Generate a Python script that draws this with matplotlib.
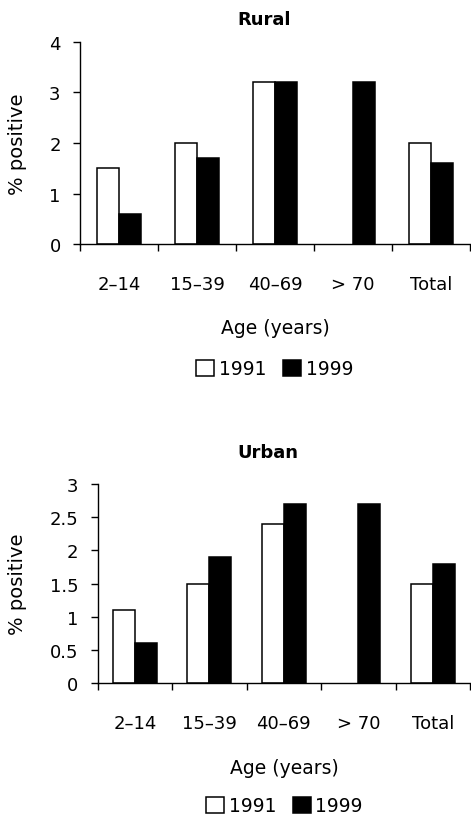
import numpy as np
import matplotlib.pyplot as plt
from matplotlib.patches import Patch

# data
ages = ['2–14', '15–39', '40–69', '> 70', 'Total']
rural_1991 = [1.5, 2.0, 3.2, np.nan, 2.0]
rural_1999 = [0.6, 1.7, 3.2, 3.2, 1.6]
urban_1991 = [1.1, 1.5, 2.4, np.nan, 1.5]
urban_1999 = [0.6, 1.9, 2.7, 2.7, 1.8]

plt.rcParams['font.family'] = 'DejaVu Sans'

fig = plt.figure(figsize=(4.71, 8.2), dpi=100)


def panel(rect, v91, v99, ymax, ystep, bw, title, title_xy, xlab_xy, ylab_xy, leg_xy):
    ax = fig.add_axes(rect)
    x = np.arange(len(ages)) + 0.5
    ax.bar(x - bw / 2, v91, bw, color='white', edgecolor='black', linewidth=1.1)
    ax.bar(x + bw / 2, v99, bw, color='black', edgecolor='black', linewidth=1.1)
    ax.set_xlim(0, len(ages))
    ax.set_ylim(0, ymax)
    ax.set_yticks(np.arange(0, ymax + 0.01, ystep))
    ax.set_yticklabels(['%g' % v for v in np.arange(0, ymax + 0.01, ystep)])
    ax.set_xticks(np.arange(len(ages) + 1))
    ax.set_xticklabels([])
    ax.set_xticks(x, minor=True)
    ax.set_xticklabels(ages, minor=True)
    ax.tick_params(axis='x', which='major', length=5, width=1, direction='out')
    ax.tick_params(axis='x', which='minor', length=0, pad=22, labelsize=13)
    ax.tick_params(axis='y', length=5, width=1, pad=9, labelsize=13)
    for s in ['top', 'right']:
        ax.spines[s].set_visible(False)
    for s in ['left', 'bottom']:
        ax.spines[s].set_linewidth(1.0)
    fig.text(title_xy[0], title_xy[1], title, ha='center', va='center',
             fontsize=13, fontweight='bold')
    fig.text(xlab_xy[0], xlab_xy[1], 'Age (years)', ha='center', va='center', fontsize=13.5)
    fig.text(ylab_xy[0], ylab_xy[1], '% positive', ha='center', va='center',
             rotation=90, fontsize=14)
    handles = [Patch(facecolor='white', edgecolor='black', linewidth=1.1),
               Patch(facecolor='black', edgecolor='black', linewidth=1.1)]
    fig.legend(handles, ['1991', '1999'], loc='center', bbox_to_anchor=leg_xy,
               ncol=2, frameon=False, fontsize=13.5, handlelength=0.95,
               handleheight=0.95, handletextpad=0.25, columnspacing=0.9)
    return ax


panel([0.170, 0.7012, 0.828, 0.2464], rural_1991, rural_1999, 4, 1, 0.282,
      'Rural', (0.561, 0.9756), (0.584, 0.600), (0.038, 0.824), (0.583, 0.549))
panel([0.2074, 0.1655, 0.7906, 0.243], urban_1991, urban_1999, 3, 0.5, 0.295,
      'Urban', (0.569, 0.4476), (0.604, 0.0634), (0.038, 0.288), (0.604, 0.016))

fig.savefig('out.png', dpi=100)
